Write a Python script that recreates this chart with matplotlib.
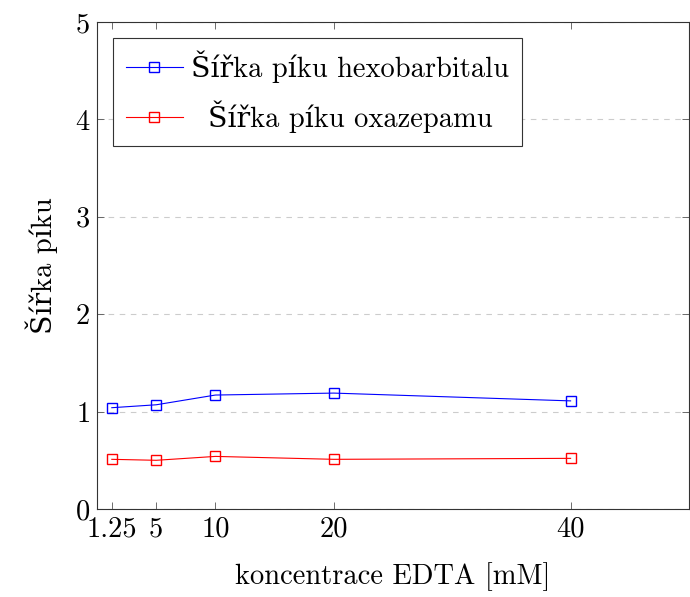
import matplotlib
matplotlib.use("Agg")
from matplotlib import pyplot as plt

# data
conc = [1.25, 5, 10, 20, 40]
hexobarbital = [1.04, 1.07, 1.17, 1.19, 1.11]
oxazepam = [0.51, 0.50, 0.54, 0.51, 0.52]
xticks = [1.25, 5, 10, 20, 40]
xtick_labels = ["1.25", "5", "10", "20", "40"]
yticks = [0, 1, 2, 3, 4, 5]

plt.rcParams['font.family'] = ['cmr10', 'DejaVu Serif']
plt.rcParams['axes.formatter.use_mathtext'] = True

fs = 20.5

fig = plt.figure(figsize=(6.9, 5.97), dpi=100)
ax = fig.add_axes([97/690, 88/597, 592/690, 487/597])

ax.plot(conc, hexobarbital, color='blue', lw=0.8, marker='s', ms=7.5,
        mfc='none', mew=1.0, label='Šířka píku hexobarbitalu')
ax.plot(conc, oxazepam, color='red', lw=0.8, marker='s', ms=7.5,
        mfc='none', mew=1.0, label='Šířka píku oxazepamu')

ax.set_xlim(0, 50)
ax.set_ylim(0, 5)
ax.set_xticks(xticks)
ax.set_xticklabels(xtick_labels)
ax.set_yticks(yticks)
ax.tick_params(direction='in', length=5, width=0.6, color='#555555',
               labelsize=fs, top=True, right=True, pad=5)
ax.grid(axis='y', linestyle=(0, (5, 5)), color='#cccccc', lw=0.8)
ax.set_axisbelow(True)
for s in ax.spines.values():
    s.set_linewidth(0.8)
    s.set_color('#333333')

ax.set_xlabel('koncentrace EDTA [mM]', fontsize=fs, labelpad=14)
ax.set_ylabel('Šířka píku', fontsize=fs, labelpad=12)

leg = ax.legend(loc='upper left', bbox_to_anchor=(0.027, 0.967), fontsize=fs,
                fancybox=False, framealpha=1, edgecolor='#333333',
                handlelength=2.0, handletextpad=0.3, borderpad=0.45,
                labelspacing=0.6, borderaxespad=0)
leg.get_frame().set_linewidth(0.8)

# pgfplots centres the legend entries, shift the shorter one
fig.canvas.draw()
r = fig.canvas.get_renderer()
t1, t2 = leg.get_texts()
dx = (t1.get_window_extent(r).width - t2.get_window_extent(r).width) / 2
t2.set_x(dx)

fig.savefig('out.png', dpi=100)
